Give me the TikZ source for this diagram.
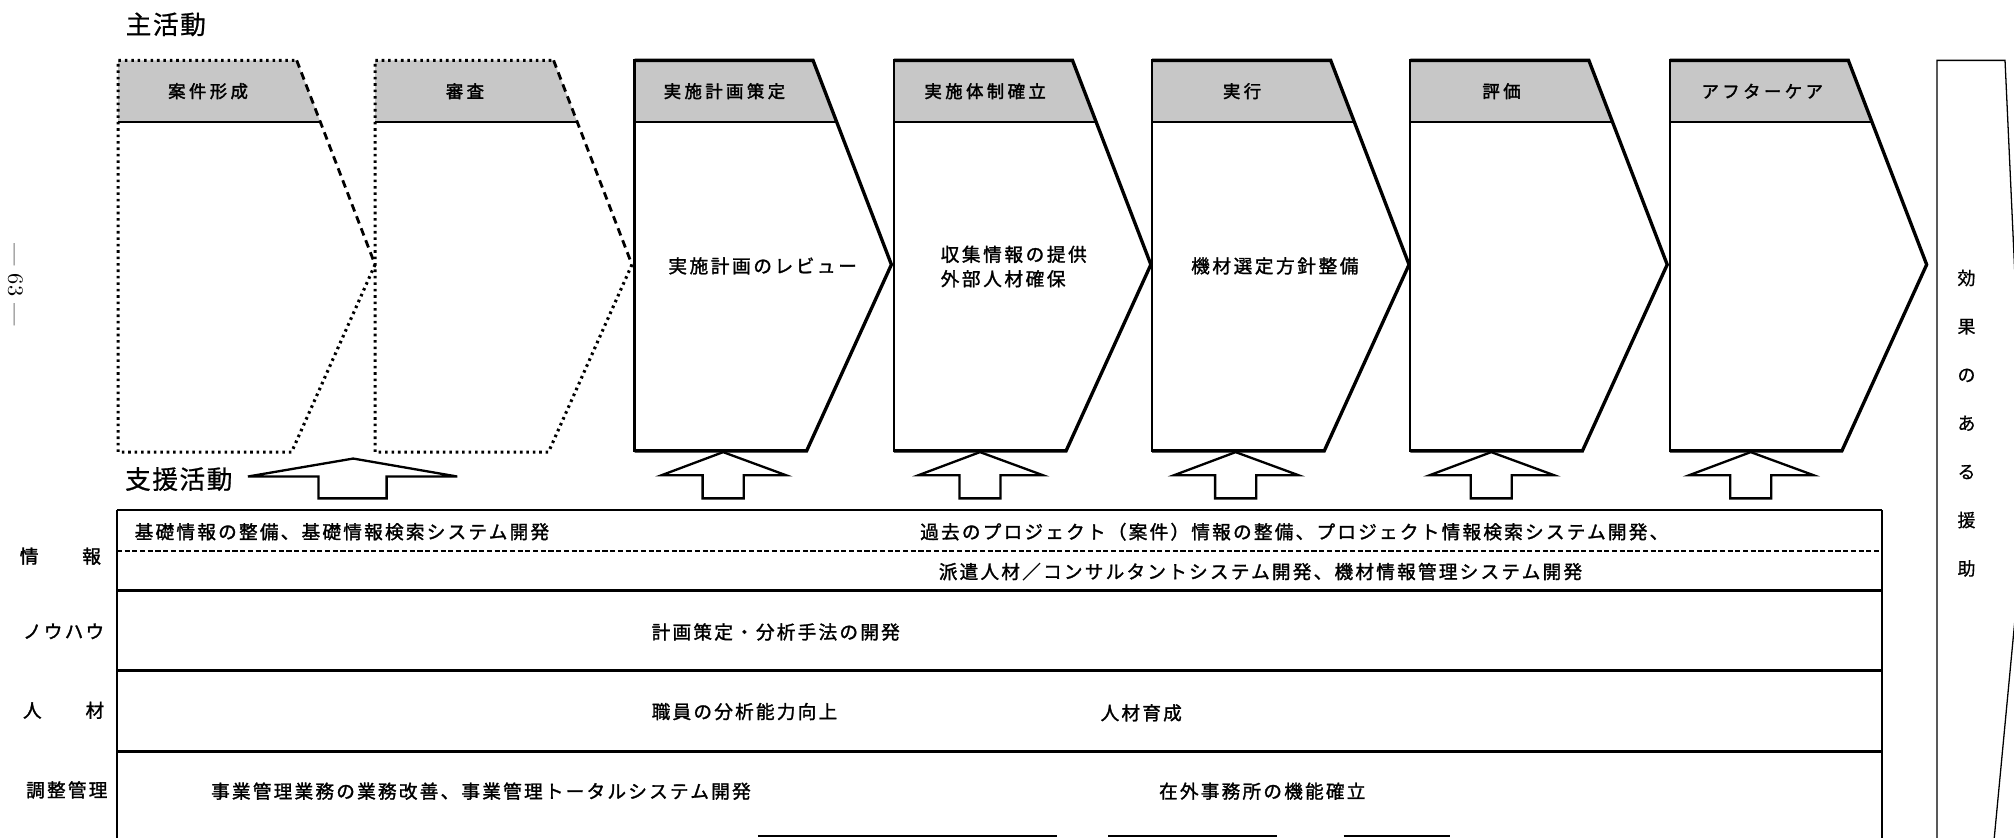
\documentclass[tikz,border=0pt]{standalone}
\usepackage{fontspec}
\newfontfamily\jptab[LetterSpace=12,FakeBold=1.5]{Noto Sans CJK JP}
\newfontfamily\jphead[LetterSpace=20,FakeBold=2]{Noto Sans CJK JP}
\newfontfamily\jpbody[LetterSpace=14,FakeBold=1.5]{Noto Sans CJK JP}
\newfontfamily\jpbig[LetterSpace=6,FakeBold=0.8]{Noto Sans CJK JP}
\newfontfamily\jpthin[FakeBold=0.6]{Noto Sans CJK JP}
\tikzset{
  hdrfill/.style={fill=black!22},
  solidedge/.style={line width=1.3pt, line join=miter},
  leftedge/.style={line width=0.9pt, line cap=rect},
  hdrline/.style={line width=1.1pt},
  dotedge/.style={line width=1.2pt, dash pattern=on 1pt off 1.5pt},
  dashedge/.style={line width=1.1pt, dash pattern=on 3pt off 2pt},
  suparr/.style={draw, line width=0.9pt, fill=white, line join=miter},
  tabline/.style={line width=1.1pt},
  tabvert/.style={line width=0.6pt},
  tabdash/.style={line width=0.9pt, dash pattern=on 2pt off 1pt},
  tabtext/.style={font=\jptab\fontsize{7.25pt}{8pt}\selectfont, inner sep=0pt, anchor=west},
  headtext/.style={font=\jphead\fontsize{6.75pt}{8pt}\selectfont, inner sep=0pt},
  bodytext/.style={font=\jpbody\fontsize{7.25pt}{8pt}\selectfont, inner sep=0pt, anchor=west},
  bigtext/.style={font=\jpbig\fontsize{10pt}{12pt}\selectfont, inner sep=0pt, anchor=west},
  paneltext/.style={font=\jpthin\fontsize{7pt}{18.85pt}\selectfont, inner sep=0pt, align=center},
}
\newcommand\solidchev[1]{%
  \fill[hdrfill] (#1,47) -- ({#1+139},47) -- ({#1+157.4},95) -- (#1,95) -- cycle;
  \draw[hdrline] (#1,95) -- ({#1+157.4},95);
  \draw[solidedge] (#1,47) -- ({#1+139},47) -- ({#1+200},206) -- ({#1+134},351) -- (#1,351);
  \draw[leftedge] (#1,47) -- (#1,351);
}
\newcommand\dotchev[1]{%
  \fill[hdrfill] (#1,47) -- ({#1+139},47) -- ({#1+157.4},95) -- (#1,95) -- cycle;
  \draw[hdrline] (#1,95) -- ({#1+157.4},95);
  \draw[dotedge] ({#1+200},206) -- ({#1+135},352) -- (#1,352) -- (#1,47) -- ({#1+139},47);
  \draw[dashedge] ({#1+139},47) -- ({#1+200},206);
}
\newcommand\suparrow[1]{%
  \draw[suparr] (#1,352) -- ({#1+49},370) -- ({#1+16},370) -- ({#1+16},388)
    -- ({#1-16},388) -- ({#1-16},370) -- ({#1-48},370) -- cycle;
}
\begin{document}
\begin{tikzpicture}[x=0.5pt,y=-0.5pt]
\useasboundingbox (0,0) rectangle (1568,652);
\clip (0,0) rectangle (1568,652);
\fill[white] (0,0) rectangle (1568,652);

% page number
\node[rotate=-90, font=\fontsize{8.5pt}{10pt}\selectfont, inner sep=0pt] (pagenum) at (12,222) {--- 63 ---};

% titles
\node[bigtext] (main) at (97.5,19) {主活動};
\node[bigtext] (support) at (97,373) {支援活動};

% main activity chevrons
\dotchev{92}
\dotchev{292}
\solidchev{494}
\solidchev{696}
\solidchev{897}
\solidchev{1098}
\solidchev{1300}

\node[headtext] (h1) at (162,71) {案件形成};
\node[headtext] (h2) at (362,71) {審査};
\node[headtext] (h3) at (564,71) {実施計画策定};
\node[headtext] (h4) at (767,71) {実施体制確立};
\node[headtext] (h5) at (967,71) {実行};
\node[headtext] (h6) at (1169,71) {評価};
\node[headtext] (h7) at (1372,71) {アフターケア};

\node[bodytext] (b3) at (520,207) {実施計画のレビュー};
\node[bodytext] (b4a) at (732,198) {収集情報の提供};
\node[bodytext] (b4b) at (732,217) {外部人材確保};
\node[bodytext] (b5) at (927,207) {機材選定方針整備};

% right panel
\draw[line width=0.5pt] (1508,670) -- (1508,47) -- (1561,47) -- (1577,395) -- (1550,680);
\node[paneltext] (effect) at (1531,329.5) {効\\果\\の\\あ\\る\\援\\助};

% support arrows
\draw[suparr] (275,357) -- (356,371) -- (301,371) -- (301,388) -- (248,388) -- (248,371) -- (193,371) -- cycle;
\suparrow{563}
\suparrow{763}
\suparrow{962}
\suparrow{1161}
\suparrow{1363}

% table
\draw[tabvert] (91,397) -- (91,660);
\draw[tabvert] (1465,397) -- (1465,660);
\draw[tabline] (91,397) -- (1465,397);
\draw[tabdash] (91,429) -- (1465,429);
\draw[tabline] (91,460) -- (1465,460);
\draw[tabline] (91,522) -- (1465,522);
\draw[tabline] (91,585) -- (1465,585);
\draw[line width=1pt] (590,651) -- (823,651);
\draw[line width=1pt] (863,651) -- (994,651);
\draw[line width=1pt] (1046,651) -- (1129,651);

\node[tabtext] (l1) at (15,433) {情　　報};
\node[tabtext] (l2) at (17.5,491.5) {ノウハウ};
\node[tabtext] (l3) at (17.5,553) {人　　材};
\node[tabtext] (l4) at (20,615) {調整管理};

\node[tabtext] (t1a) at (104.5,414) {基礎情報の整備、基礎情報検索システム開発};
\node[tabtext] (t1b) at (716,414) {過去のプロジェクト（案件）情報の整備、プロジェクト情報検索システム開発、};
\node[tabtext] (t1c) at (730.5,445) {派遣人材／コンサルタントシステム開発、機材情報管理システム開発};
\node[tabtext] (t2) at (507,492) {計画策定・分析手法の開発};
\node[tabtext] (t3a) at (507,554) {職員の分析能力向上};
\node[tabtext] (t3b) at (856.5,555) {人材育成};
\node[tabtext] (t4a) at (164,616) {事業管理業務の業務改善、事業管理トータルシステム開発};
\node[tabtext] (t4b) at (902,616) {在外事務所の機能確立};
\end{tikzpicture}
\end{document}
